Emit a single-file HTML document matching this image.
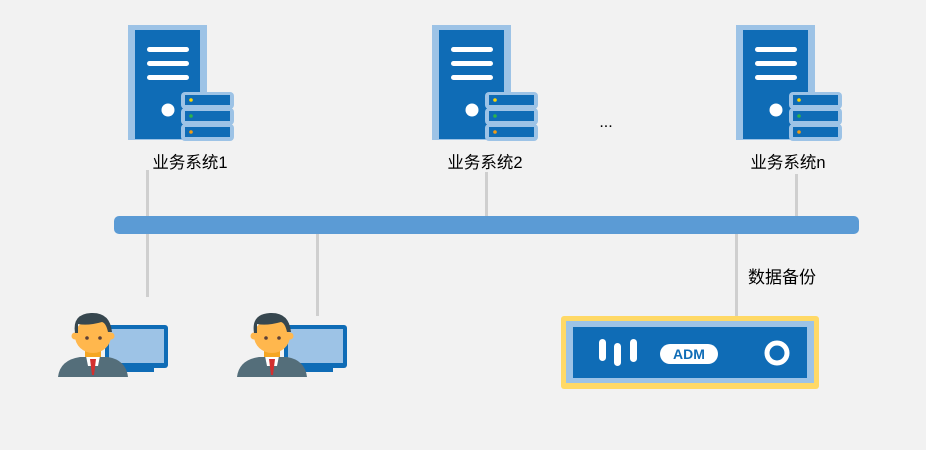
<!DOCTYPE html>
<html><head><meta charset="utf-8"><style>
body{margin:0;background:#f2f2f2;}
svg{display:block}
text{font-family:"Liberation Sans","Noto Sans CJK SC",sans-serif;}
</style></head><body>
<svg width="926" height="450" viewBox="0 0 926 450">
<rect width="926" height="450" fill="#f2f2f2"/>
<defs>
<g id="srv">
<rect x="0" y="0" width="79" height="115" fill="#9dc3e6"/>
<rect x="7" y="5" width="65" height="109" fill="#0f6cb6"/>
<rect x="19" y="22" width="42" height="5" rx="2.5" fill="#fff"/>
<rect x="19" y="36" width="42" height="5" rx="2.5" fill="#fff"/>
<rect x="19" y="50" width="42" height="5" rx="2.5" fill="#fff"/>
<circle cx="40" cy="85" r="6.5" fill="#fff"/>
<g>
<rect x="53" y="67" width="53" height="17" rx="4" fill="#9dc3e6"/>
<rect x="57" y="70" width="45" height="10" fill="#0f6cb6"/>
<circle cx="63" cy="75" r="1.8" fill="#ffd700"/>
<rect x="53" y="83" width="53" height="17" rx="4" fill="#9dc3e6"/>
<rect x="57" y="86" width="45" height="10" fill="#0f6cb6"/>
<circle cx="63" cy="91" r="1.8" fill="#2db34a"/>
<rect x="53" y="99" width="53" height="17" rx="4" fill="#9dc3e6"/>
<rect x="57" y="102" width="45" height="10" fill="#0f6cb6"/>
<circle cx="63" cy="107" r="1.8" fill="#f39c12"/>
</g>
</g>
<g id="usr">
<rect x="47" y="25" width="63" height="43" rx="3" fill="#0f6cb6"/>
<rect x="51" y="29" width="55" height="34" fill="#9dc3e6"/>
<rect x="62" y="68" width="34" height="4" fill="#0f6cb6"/>
<path d="M0 77 Q2 60 22 57 L50 57 Q68 60 70 77 Z" fill="#546e7a"/>
<path d="M28 56 L42 56 L40 66 L30 66 Z" fill="#fff"/>
<path d="M32 59 L38 59 L36 75 L34 75 Z" fill="#d32f2f"/>
<rect x="27" y="45" width="16" height="12" fill="#f5a623"/>
<ellipse cx="35" cy="36" rx="18" ry="17" fill="#ffb74d"/>
<circle cx="17" cy="36" r="3.5" fill="#ffb74d"/>
<circle cx="53" cy="36" r="3.5" fill="#ffb74d"/>
<path d="M17 33 Q14 14 33 13 Q52 12 54 32 L50 32 Q48 23 44 22 Q30 26 20 24 L20 33 Z" fill="#37474f"/>
<circle cx="29" cy="38" r="1.8" fill="#5d4037"/>
<circle cx="42" cy="38" r="1.8" fill="#5d4037"/>
</g>
</defs>
<g fill="#cfcfcf">
<rect x="146" y="170" width="3" height="127"/>
<rect x="485" y="172" width="3" height="44"/>
<rect x="795" y="174" width="3" height="42"/>
<rect x="316" y="233" width="3" height="83"/>
<rect x="735" y="233" width="3" height="83"/>
</g>
<rect x="114" y="216" width="745" height="18" rx="5" fill="#5b9bd5"/>
<use href="#srv" x="128" y="25"/>
<use href="#srv" x="432" y="25"/>
<use href="#srv" x="736" y="25"/>
<text x="190" y="168" font-size="16.5" text-anchor="middle" fill="#000">业务系统1</text>
<text x="485" y="168" font-size="16.5" text-anchor="middle" fill="#000">业务系统2</text>
<text x="788" y="168" font-size="16.5" text-anchor="middle" fill="#000">业务系统n</text>
<text x="606" y="127" font-size="16" text-anchor="middle" fill="#000">...</text>
<text x="782" y="283" font-size="17" text-anchor="middle" fill="#000">数据备份</text>
<use href="#usr" x="58" y="300"/>
<use href="#usr" x="237" y="300"/>
<rect x="561" y="316" width="258" height="73" rx="3" fill="#ffd966"/>
<rect x="566" y="321" width="248" height="62" fill="#9dc3e6"/>
<rect x="573" y="327" width="234" height="51" fill="#0f6cb6"/>
<rect x="599" y="339" width="7" height="22" rx="3.5" fill="#fff"/>
<rect x="614" y="343" width="7" height="23" rx="3.5" fill="#fff"/>
<rect x="630" y="339" width="7" height="23" rx="3.5" fill="#fff"/>
<rect x="660" y="344" width="58" height="20" rx="10" fill="#fff"/>
<text x="689" y="359" font-size="14" font-weight="bold" text-anchor="middle" fill="#0f6cb6">ADM</text>
<circle cx="777" cy="353" r="10" fill="none" stroke="#fff" stroke-width="5"/>
</svg>
</body></html>
